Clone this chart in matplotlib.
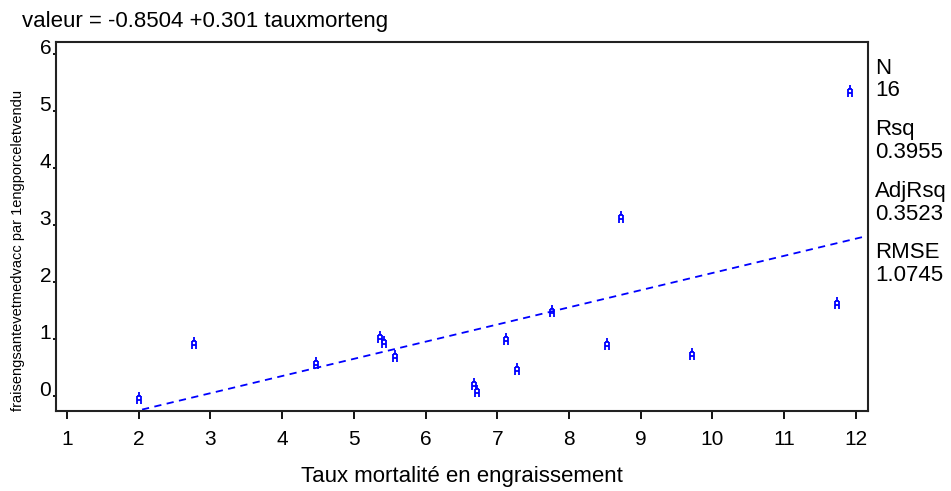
import numpy as np
import matplotlib
matplotlib.use("Agg")
import matplotlib.pyplot as plt
from matplotlib.path import Path

plt.rcParams["font.family"] = ["Liberation Sans", "DejaVu Sans"]

# ---------------------------------------------------------------------------
# Data
# ---------------------------------------------------------------------------
taux_mort = [2.00, 2.77, 4.47, 5.37, 5.42, 5.57, 6.67, 6.72,
             7.12, 7.28, 7.76, 8.53, 8.72, 9.72, 11.74, 11.92]
frais = [-0.04, 0.94, 0.58, 1.04, 0.95, 0.70, 0.21, 0.09,
         1.00, 0.48, 1.50, 0.91, 3.15, 0.74, 1.64, 5.35]

intercept = -0.8504
slope = 0.301
stats_names = ["N", "Rsq", "AdjRsq", "RMSE"]
stats_values = ["16", "0.3955", "0.3523", "1.0745"]

x_ticks = list(range(1, 13))
y_ticks = list(range(0, 7))

BLUE = "#0000FF"
FS = 16

# plot symbol: small stem on top of an "H"-like glyph
sym = Path(
    [(0, 1.0), (0, 0.35),
     (-0.4, 0.35), (0.4, 0.35),
     (-0.4, 0.35), (-0.4, -1.0),
     (0.4, 0.35), (0.4, -1.0),
     (-0.4, -0.3), (0.4, -0.3)],
    [Path.MOVETO, Path.LINETO] * 5,
)

fig = plt.figure(figsize=(9.51, 4.91), dpi=100)
ax = fig.add_axes([0.0589, 0.1629, 0.8538, 0.7516])

xlim = (0.846, 12.17)
ylim = (-0.26, 6.21)

# regression line across the whole x range
xl = np.array(xlim)
ax.plot(xl, intercept + slope * xl, color=BLUE, linewidth=1.3,
        linestyle=(0, (4, 3)), zorder=2)

ax.plot(taux_mort, frais, linestyle="none", marker=sym, markersize=8.5,
        markeredgewidth=1.3, color=BLUE, markerfacecolor="none", zorder=3)

ax.set_xlim(*xlim)
ax.set_ylim(*ylim)

ax.set_xticks(x_ticks)
ax.set_xticklabels([str(v) for v in x_ticks], fontsize=15)
ax.set_yticks(y_ticks)
ax.set_yticklabels([f"{v}" for v in y_ticks], fontsize=15, va="baseline")
ax.tick_params(axis="x", direction="out", length=6, width=1.3, pad=8, colors="black")
ax.tick_params(axis="y", direction="out", length=2, width=1.3, pad=1.5, colors="black")

for spine in ax.spines.values():
    spine.set_color("#222222")
    spine.set_linewidth(1.5)

ax.set_xlabel("Taux mortalité en engraissement", fontsize=FS, labelpad=12)
fig.text(0.019, 0.49, "fraisengsantevetmedvacc par 1engporceletvendu",
         rotation=90, fontsize=10.5, ha="center", va="center")

fig.text(22 / 951, 1 - 22 / 491, "valeur = -0.8504 +0.301 tauxmorteng",
         fontsize=FS, ha="left", va="center")

# fit statistics on the right margin
y0 = 68
for i, (name, val) in enumerate(zip(stats_names, stats_values)):
    yy = y0 + i * 61.5
    fig.text(875 / 951, 1 - yy / 491, name, fontsize=FS, ha="left", va="center")
    fig.text(875 / 951, 1 - (yy + 23) / 491, val, fontsize=FS, ha="left", va="center")

fig.savefig("out.png", dpi=100, facecolor="white")
